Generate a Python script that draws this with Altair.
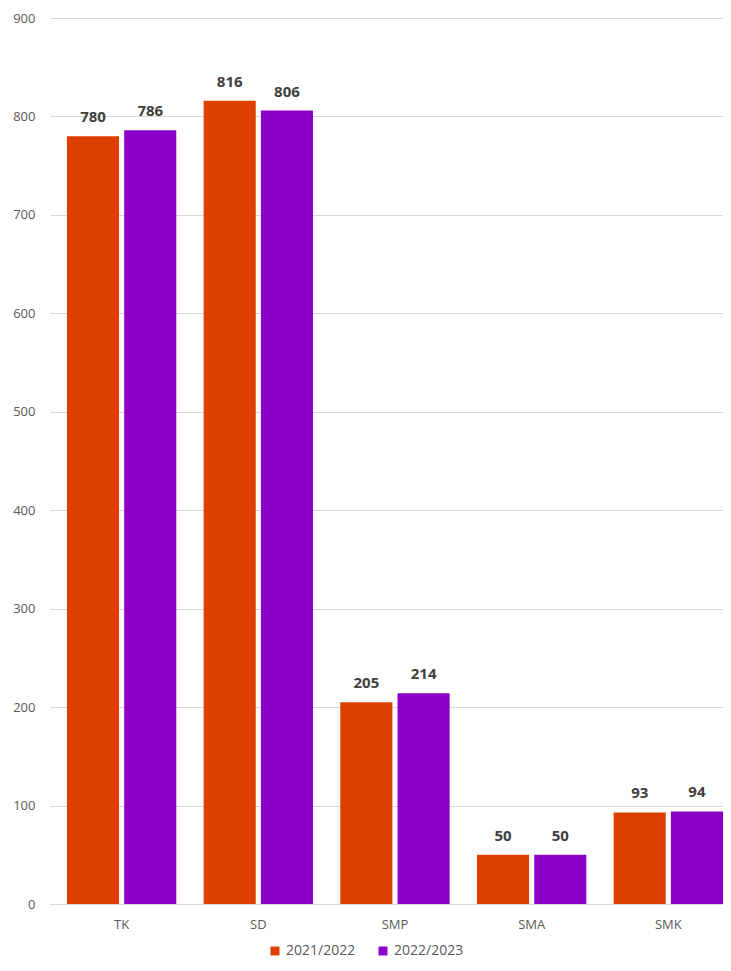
import altair as alt
import pandas as pd

categories = ["TK", "SD", "SMP", "SMA", "SMK"]
series = ["2021/2022", "2022/2023"]
values_2122 = [780, 816, 205, 50, 93]
values_2223 = [786, 806, 214, 50, 94]

rows = []
for c, v in zip(categories, values_2122):
    rows.append({"jenjang": c, "tahun": series[0], "jumlah": v})
for c, v in zip(categories, values_2223):
    rows.append({"jenjang": c, "tahun": series[1], "jumlah": v})
df = pd.DataFrame(rows)

colors = ["#DE3E00", "#8A00C8"]

x = alt.X("jenjang:N", sort=categories, title=None,
          scale=alt.Scale(paddingInner=0.2, paddingOuter=0.062, align=1),
          axis=alt.Axis(labelAngle=0, labelPadding=14, ticks=False, domain=True,
                        domainColor="#D9D9D9", labelColor="#595959",
                        labelFontSize=13, labelFont="Open Sans"))
xo = alt.XOffset("tahun:N", sort=series, scale=alt.Scale(paddingInner=0.09))
y = alt.Y("jumlah:Q", title=None,
          scale=alt.Scale(domain=[0, 900]),
          axis=alt.Axis(values=list(range(0, 901, 100)), grid=True, gridColor="#D9D9D9",
                        domain=False, ticks=False, labelPadding=15,
                        labelColor="#595959", labelFontSize=13, labelFont="Open Sans"))

bars = alt.Chart(df).mark_bar().encode(
    x=x, xOffset=xo, y=y,
    color=alt.Color("tahun:N", sort=series,
                    scale=alt.Scale(domain=series, range=colors),
                    legend=alt.Legend(title=None, orient="none", direction="horizontal",
                                      legendX=218, legendY=926,
                                      symbolType="square", symbolSize=80,
                                      labelColor="#595959", labelFontSize=14,
                                      labelFont="Open Sans", columnPadding=20)),
)

labels = alt.Chart(df).mark_text(dy=-19, fontWeight="bold", fontSize=15,
                                 color="#404040", font="Open Sans").encode(
    x=alt.X("jenjang:N", sort=categories),
    xOffset=alt.XOffset("tahun:N", sort=series),
    y="jumlah:Q",
    text="jumlah:Q",
)

chart = (bars + labels).properties(
    width=673, height=886,
    autosize=alt.AutoSizeParams(type="none"),
    padding={"left": 42, "top": 10, "right": 0, "bottom": 59},
).configure_view(stroke=None)

chart.save("out.html", embed_options={"renderer": "svg", "actions": False})
